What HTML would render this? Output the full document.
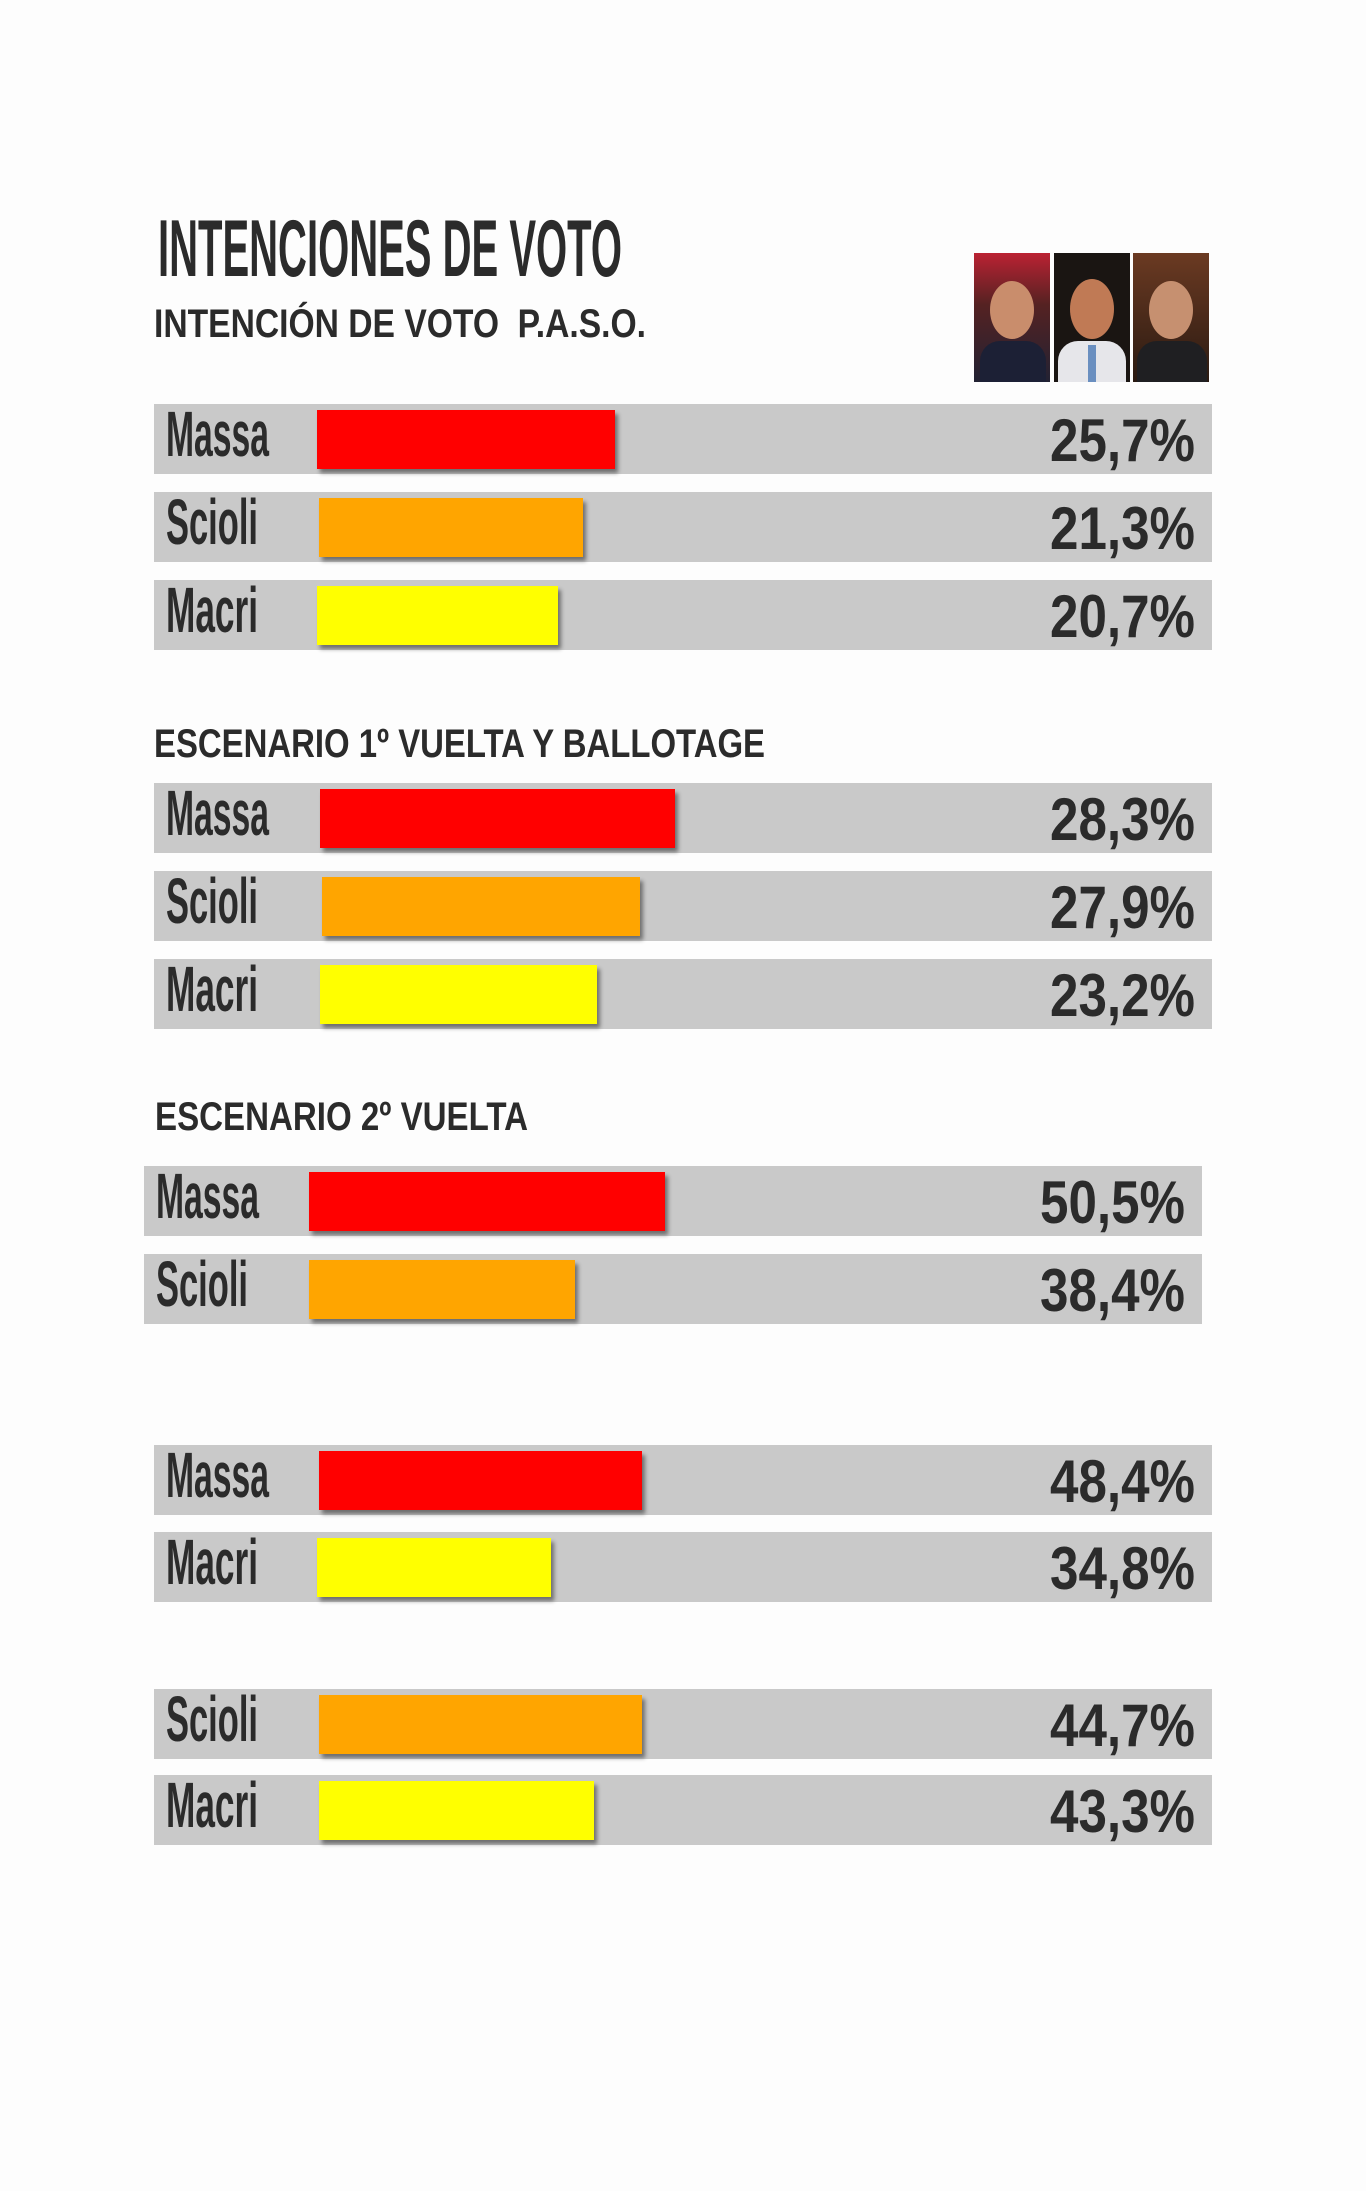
<!DOCTYPE html>
<html><head><meta charset="utf-8">
<style>
body{margin:0;width:1366px;height:2191px;background:#fdfdfd;position:relative;overflow:hidden;font-family:"Liberation Sans",sans-serif;color:#2b2b2b}
.a{position:absolute}
.row{position:absolute;height:70px;background:#c9c9c9}
.bar{position:absolute;top:6px;height:59px;box-shadow:3px 4px 4px rgba(0,0,0,.45)}
.fit{position:absolute;white-space:nowrap;line-height:1}
.fit span{display:inline-block;transform-origin:0 0}
.lab{font-size:64px;top:-2px;left:12px;font-weight:bold}
.pct{font-size:60px;font-weight:bold;top:7px;left:896px}
.h{font-weight:bold}
.ph{position:absolute;top:253px;height:129px;width:76px;overflow:hidden}
</style></head><body>
<div class="fit h" style="left:158px;top:209px;font-size:81px;width:464px"><span>INTENCIONES DE VOTO</span></div>
<div class="fit h" style="left:154px;top:304px;font-size:40px;width:492px"><span>INTENCIÓN DE VOTO&nbsp; P.A.S.O.</span></div>

<div class="ph" style="left:974px;background:linear-gradient(#b23 0%,#522 40%,#223 100%)"><div class="a" style="left:16px;top:28px;width:44px;height:58px;border-radius:50%;background:#c98d6c"></div><div class="a" style="left:6px;top:88px;width:66px;height:50px;background:#1c2035;border-radius:20px 20px 0 0"></div></div>
<div class="ph" style="left:1054px;background:#1a1512"><div class="a" style="left:16px;top:26px;width:44px;height:60px;border-radius:50%;background:#c07a55"></div><div class="a" style="left:4px;top:88px;width:68px;height:50px;background:#e6e6ea;border-radius:20px 20px 0 0"></div><div class="a" style="left:34px;top:92px;width:8px;height:40px;background:#6a8fc0"></div></div>
<div class="ph" style="left:1133px;background:linear-gradient(#6b3a22,#2a1a12)"><div class="a" style="left:16px;top:28px;width:44px;height:58px;border-radius:50%;background:#c69070"></div><div class="a" style="left:4px;top:88px;width:70px;height:50px;background:#1f1f22;border-radius:20px 20px 0 0"></div></div>

<div class="fit h" style="left:154px;top:724px;font-size:40px;width:611px"><span>ESCENARIO 1º VUELTA Y BALLOTAGE</span></div>
<div class="fit h" style="left:155px;top:1097px;font-size:40px;width:373px"><span>ESCENARIO 2º VUELTA</span></div>

<div id="rows"></div>
<script>
var R=[
[154,404,317,615,'#ff0000','Massa','25,7%'],
[154,492,319,583,'#ffa500','Scioli','21,3%'],
[154,580,317,558,'#ffff00','Macri','20,7%'],
[154,783,320,675,'#ff0000','Massa','28,3%'],
[154,871,322,640,'#ffa500','Scioli','27,9%'],
[154,959,320,597,'#ffff00','Macri','23,2%'],
[144,1166,309,665,'#ff0000','Massa','50,5%'],
[144,1254,309,575,'#ffa500','Scioli','38,4%'],
[154,1445,319,642,'#ff0000','Massa','48,4%'],
[154,1532,317,551,'#ffff00','Macri','34,8%'],
[154,1689,319,642,'#ffa500','Scioli','44,7%'],
[154,1775,319,594,'#ffff00','Macri','43,3%']];
var h='';
R.forEach(function(r){
 var w={Massa:103,Scioli:92,Macri:92}[r[5]];
 h+='<div class="row" style="left:'+r[0]+'px;top:'+r[1]+'px;width:1058px">'+
 '<div class="bar" style="left:'+(r[2]-r[0])+'px;width:'+(r[3]-r[2])+'px;background:'+r[4]+'"></div>'+
 '<div class="fit lab" style="width:'+w+'px"><span>'+r[5]+'</span></div>'+
 '<div class="fit pct" style="width:145px"><span>'+r[6]+'</span></div></div>';
});
document.getElementById('rows').innerHTML=h;
document.querySelectorAll('.fit').forEach(function(d){
 var s=d.firstChild,t=parseFloat(d.style.width),w=s.getBoundingClientRect().width;
 if(w>0)s.style.transform='scaleX('+(t/w)+')';
});
</script>
</body></html>
